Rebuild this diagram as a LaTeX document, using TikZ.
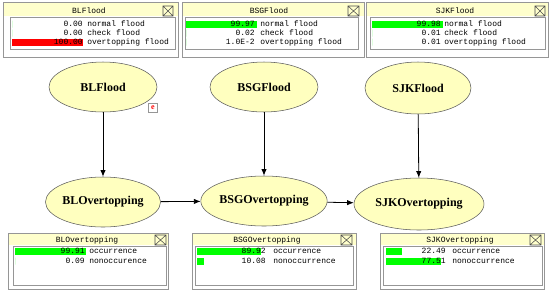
\documentclass[tikz,border=0pt]{standalone}
\usepackage{fontspec}
\setmainfont{Liberation Serif}
\setmonofont{Liberation Mono}
\usepackage{tikz}
\usetikzlibrary{shapes.geometric, arrows.meta, positioning}
\definecolor{ellFill}{RGB}{255, 255, 191}
\definecolor{ellDraw}{RGB}{90, 90, 90}
\definecolor{monTitle}{RGB}{255, 255, 204}
\definecolor{monEdge}{RGB}{150, 150, 150}
\definecolor{barGreen}{RGB}{0, 255, 0}
\definecolor{barRed}{RGB}{255, 0, 0}

\begin{document}
\begin{tikzpicture}[x=0.75pt, y=-0.75pt,
  var/.style={ellipse, draw=ellDraw, fill=ellFill, inner sep=0pt,
    font=\bfseries\fontsize{9}{10}\selectfont},
  link/.style={-{Latex[length=5pt, width=4pt]}, line width=0.6pt},
  monout/.style={draw=monEdge, fill=white, line width=0.6pt},
  mbar/.style={fill=monTitle},
  monpanel/.style={draw=monEdge, line width=0.5pt},
  monclose/.style={draw=black!70, line width=0.4pt},
  mtxt/.style={font=\ttfamily\fontsize{6}{7}\selectfont, inner sep=0pt},
  val/.style={mtxt, anchor=east},
  lbl/.style={mtxt, anchor=west},
]
\useasboundingbox (0,0) rectangle (550,294);

% network nodes
\node[var, minimum width=81pt, minimum height=37.5pt]   (blf)  at (103,87)  {BLFlood};
\node[var, minimum width=81pt, minimum height=37.5pt]   (bsgf) at (264,87)  {BSGFlood};
\node[var, minimum width=79.5pt, minimum height=39pt]   (sjkf) at (418,88)  {SJKFlood};
\node[var, minimum width=82.5pt, minimum height=37.5pt] (blo)  at (103,202) {BLOvertopping};
\node[var, minimum width=88.5pt, minimum height=37.5pt] (bsgo) at (264,201) {BSGOvertopping};
\node[var, minimum width=97.5pt, minimum height=39pt]   (sjko) at (419,204) {SJKOvertopping};

% evidence mark
\node[draw=monEdge, fill=white, inner sep=0pt, minimum size=7pt,
  text=barRed, font=\bfseries\fontsize{6}{6}\selectfont] (blfe) at (153,107.5) {e};

\draw[link] (blf)  -- (blo);
\draw[link] (bsgf) -- (bsgo);
\draw[link] (sjkf) -- (sjko);
\draw[link] (blo)  -- (bsgo);
\draw[link] (bsgo) -- (sjko);

% monitor BLFlood
\draw[monout] (3,2) rectangle (178,57);
\fill[mbar] (3.5,2.5) rectangle (177.5,16);
\draw[monpanel] (10,17) rectangle (175,49);
\node[mtxt] (blf-title) at (89,10.5) {BLFlood};
\draw[monclose] (163,6) rectangle (173,16) (163,6) -- (173,16) (173,6) -- (163,16);
\foreach \v/\t/\p/\c [count=\i] in {0.00/normal flood/0/barGreen,
    0.00/check flood/0/barGreen, 100.00/overtopping flood/100/barRed}{
  \fill[\c] (12,{24+9*(\i-1)-3.5}) rectangle ++({0.71*\p},7);
  \node[val] (blf-v\i) at (83,{24+9*(\i-1)}) {\v};
  \node[lbl] (blf-t\i) at (87,{24+9*(\i-1)}) {\t};
}

% monitor BSGFlood
\draw[monout] (182,2) rectangle (364,57);
\fill[mbar] (182.5,2.5) rectangle (363.5,16);
\draw[monpanel] (185,17) rectangle (358,49);
\node[mtxt] (bsgf-title) at (269,10.5) {BSGFlood};
\draw[monclose] (348,6) rectangle (359,16) (348,6) -- (359,16) (359,6) -- (348,16);
\foreach \v/\t/\p [count=\i] in {99.97/normal flood/99.97,
    0.02/check flood/0, 1.0E-2/overtopping flood/0}{
  \fill[barGreen] (186,{24+9*(\i-1)-3.5}) rectangle ++({0.71*\p},7);
  \node[val] (bsgf-v\i) at (255,{24+9*(\i-1)}) {\v};
  \node[lbl] (bsgf-t\i) at (260,{24+9*(\i-1)}) {\t};
}

% monitor SJKFlood
\draw[monout] (366,2) rectangle (548,57);
\fill[mbar] (366.5,2.5) rectangle (547.5,16);
\draw[monpanel] (370,17) rectangle (545,49);
\node[mtxt] (sjkf-title) at (455,10.5) {SJKFlood};
\draw[monclose] (535,6) rectangle (545,16) (535,6) -- (545,16) (545,6) -- (535,16);
\foreach \v/\t/\p [count=\i] in {99.98/normal flood/99.98,
    0.01/check flood/0, 0.01/overtopping flood/0}{
  \fill[barGreen] (372,{24+9*(\i-1)-3.5}) rectangle ++({0.71*\p},7);
  \node[val] (sjkf-v\i) at (441,{24+9*(\i-1)}) {\v};
  \node[lbl] (sjkf-t\i) at (444,{24+9*(\i-1)}) {\t};
}

% monitor BLOvertopping
\draw[monout] (8,233) rectangle (168,289);
\fill[mbar] (8.5,233.5) rectangle (167.5,245);
\draw[monpanel] (13,246) rectangle (166,285);
\node[mtxt] (blo-title) at (87,240) {BLOvertopping};
\draw[monclose] (155,235) rectangle (166,245) (155,235) -- (166,245) (166,235) -- (155,245);
\foreach \v/\t/\p [count=\i] in {99.91/occurrence/99.91, 0.09/nonoccurence/0}{
  \fill[barGreen] (15,{251+10*(\i-1)-3.5}) rectangle ++({0.71*\p},7);
  \node[val] (blo-v\i) at (85,{251+10*(\i-1)}) {\v};
  \node[lbl] (blo-t\i) at (89,{251+10*(\i-1)}) {\t};
}

% monitor BSGOvertopping
\draw[monout] (192,233) rectangle (356,289);
\fill[mbar] (192.5,233.5) rectangle (355.5,245);
\draw[monpanel] (195,246) rectangle (353,285);
\node[mtxt] (bsgo-title) at (267,240) {BSGOvertopping};
\draw[monclose] (341,235) rectangle (352,245) (341,235) -- (352,245) (352,235) -- (341,245);
\foreach \v/\t/\p [count=\i] in {89.92/occurrence/89.92, 10.08/nonoccurrence/10.08}{
  \fill[barGreen] (197,{251+10*(\i-1)-3.5}) rectangle ++({0.71*\p},7);
  \node[val] (bsgo-v\i) at (266,{251+10*(\i-1)}) {\v};
  \node[lbl] (bsgo-t\i) at (273,{251+10*(\i-1)}) {\t};
}

% monitor SJKOvertopping
\draw[monout] (380,233) rectangle (544,289);
\fill[mbar] (380.5,233.5) rectangle (543.5,245);
\draw[monpanel] (383,246) rectangle (542,285);
\node[mtxt] (sjko-title) at (460,240) {SJKOvertopping};
\draw[monclose] (530,235) rectangle (541,245) (530,235) -- (541,245) (541,235) -- (530,245);
\foreach \v/\t/\p [count=\i] in {22.49/occurrence/22.49, 77.51/nonoccurrence/77.51}{
  \fill[barGreen] (386,{251+10*(\i-1)-3.5}) rectangle ++({0.71*\p},7);
  \node[val] (sjko-v\i) at (446,{251+10*(\i-1)}) {\v};
  \node[lbl] (sjko-t\i) at (452,{251+10*(\i-1)}) {\t};
}
\end{tikzpicture}
\end{document}
